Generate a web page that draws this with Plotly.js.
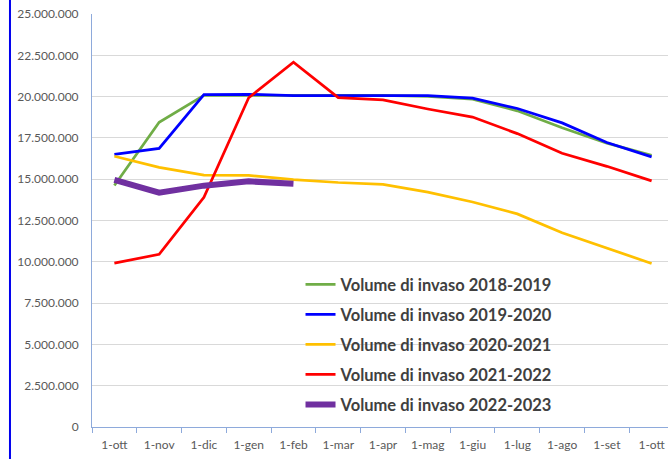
<!DOCTYPE html>
<html>
<head>
<meta charset="utf-8">
<script src="https://cdn.plot.ly/plotly-3.0.1.min.js"></script>
<style>
html,body{margin:0;padding:0;background:#fff;overflow:hidden;}
#chart{width:668px;height:459px;}
</style>
</head>
<body>
<div id="chart"></div>
<script>
// Categories (months, Oct -> Oct)
const months = ['1-ott','1-nov','1-dic','1-gen','1-feb','1-mar','1-apr','1-mag','1-giu','1-lug','1-ago','1-set','1-ott'];

// Series values (m3)
const seriesNames = ['Volume di invaso 2018-2019','Volume di invaso 2019-2020','Volume di invaso 2020-2021','Volume di invaso 2021-2022','Volume di invaso 2022-2023'];
const v2018_2019 = [14620000,18450000,20080000,20100000,20080000,20080000,20080000,20020000,19850000,19140000,18110000,17180000,16450000];
const v2019_2020 = [16500000,16860000,20120000,20140000,20060000,20070000,20090000,20060000,19910000,19280000,18410000,17220000,16350000];
const v2020_2021 = [16390000,15720000,15250000,15230000,14980000,14800000,14690000,14220000,13620000,12900000,11760000,10820000,9900000];
const v2021_2022 = [9920000,10450000,13900000,19930000,22080000,19940000,19800000,19250000,18760000,17760000,16570000,15780000,14900000];
const v2022_2023 = [14960000,14180000,14610000,14870000,14730000];

// Y tick values
const yTicks = [0,2500000,5000000,7500000,10000000,12500000,15000000,17500000,20000000,22500000,25000000];

const colors = ['#70ad47','#0000ff','#ffc000','#ff0000','#7030a0'];
const widths = [2.75,2.75,2.75,2.75,6];
const allSeries = [v2018_2019,v2019_2020,v2020_2021,v2021_2022,v2022_2023];

const xIdx = months.map((m,i)=>i);

const traces = allSeries.map((vals,k)=>({
  type:'scatter',
  mode:'lines',
  name:seriesNames[k],
  legendgroup:'g'+k,
  x:xIdx.slice(0,vals.length),
  y:vals,
  line:{color:colors[k],width:widths[k]},
  hoverinfo:'x+y'
}));

const layout = {
  width:668,height:459,
  margin:{l:92,r:0,t:14,b:32},
  paper_bgcolor:'#ffffff',
  plot_bgcolor:'#ffffff',
  separators:',.',
  font:{family:'Lato, "Open Sans", sans-serif',color:'#595959',size:12},
  xaxis:{
    range:[-0.5,12.366],
    tickmode:'array',
    tickvals:xIdx,
    ticktext:months,
    showgrid:false,
    zeroline:false,
    showline:true,
    linecolor:'#8eaadb',
    linewidth:1,
    ticks:'',
    ticklabelstandoff:7,
    minor:{tick0:-0.5,dtick:1,ticks:'outside',ticklen:5,tickcolor:'#8eaadb',tickwidth:1,showgrid:false},
    tickfont:{size:12,color:'#595959'},
    fixedrange:true
  },
  yaxis:{
    range:[0,25000000],
    tickmode:'array',
    tickvals:yTicks,
    tickformat:',d',
    showgrid:true,
    gridcolor:'#d9d9d9',
    gridwidth:1,
    zeroline:false,
    showline:true,
    linecolor:'#8eaadb',
    linewidth:1,
    ticks:'',
    ticklabelstandoff:10,
    tickfont:{size:12,color:'#595959'},
    fixedrange:true
  },
  showlegend:true,
  legend:{
    x:0.362,y:0.387,xanchor:'left',yanchor:'top',
    bgcolor:'rgba(0,0,0,0)',
    borderwidth:0,
    tracegroupgap:5.55,
    font:{family:'Lato, "Open Sans", sans-serif',size:16.5,color:'#404040',weight:'bold'}
  },
  shapes:[{
    type:'line',xref:'paper',yref:'paper',
    x0:-0.1424,x1:-0.1424,y0:-0.08,y1:1.04,
    line:{color:'#0000ee',width:2}
  }]
};

Plotly.newPlot('chart',traces,layout,{displayModeBar:false,staticPlot:true});
</script>
</body>
</html>
